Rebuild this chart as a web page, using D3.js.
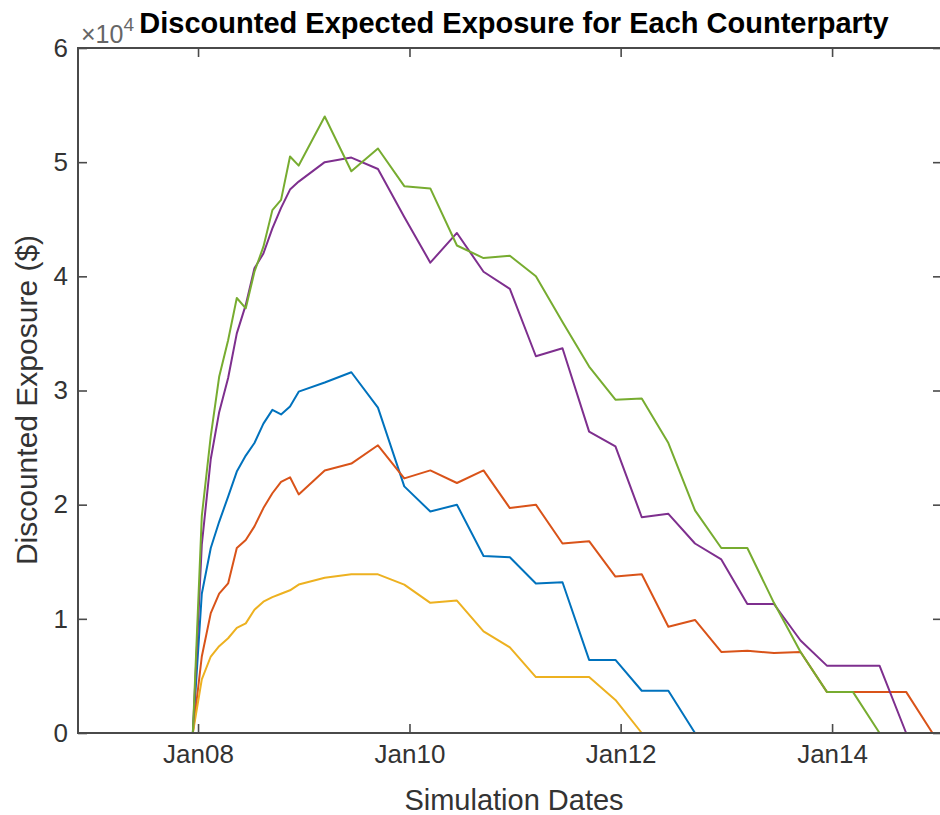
<!DOCTYPE html>
<html>
<head>
<meta charset="utf-8">
<script src="https://cdn.jsdelivr.net/npm/d3@7"></script>
<style>
  body { margin: 0; background: #fff; }
  svg { display: block; font-family: "Liberation Sans", Arial, Helvetica, sans-serif; }
</style>
</head>
<body>
<script>
(function(){
  var width = 940;
  var height = 815;

  // simulation dates: monthly for the first year, quarterly afterwards
  var simDates = [
    "2007-12-14","2008-01-14","2008-02-14","2008-03-14","2008-04-14","2008-05-14",
    "2008-06-14","2008-07-14","2008-08-14","2008-09-14","2008-10-14","2008-11-14",
    "2008-12-14","2009-03-14","2009-06-14","2009-09-14","2009-12-14","2010-03-14",
    "2010-06-14","2010-09-14","2010-12-14","2011-03-14","2011-06-14","2011-09-14",
    "2011-12-14","2012-03-14","2012-06-14","2012-09-14","2012-12-14","2013-03-14",
    "2013-06-14","2013-09-14","2013-12-14","2014-03-14","2014-06-14","2014-09-14",
    "2014-12-14"
  ];

  // discounted expected exposure ($) per counterparty
  var cp1 = [0,12200,16200,18500,20700,22900,24300,25400,27100,28300,27900,28600,29900,
    30700,31600,28500,21600,19400,20000,15500,15400,13100,13200,6400,6400,3700,3700,
    0,0,0,0,0,0,0,0,0,0];
  var cp2 = [0,6700,10500,12200,13100,16200,16900,18100,19700,21000,22000,22400,20900,
    23000,23600,25200,22300,23000,21900,23000,19700,20000,16600,16800,13700,13900,9300,
    9900,7100,7200,7000,7100,3600,3600,3600,3600,0];
  var cp3 = [0,4700,6700,7600,8300,9200,9600,10800,11500,11900,12200,12500,13000,
    13600,13900,13900,13000,11400,11600,8900,7500,4900,4900,4900,2900,
    0,0,0,0,0,0,0,0,0,0,0,0];
  var cp4 = [0,16500,24000,28100,31100,35000,37500,40700,42000,44200,46000,47600,48300,
    50000,50400,49400,45200,41200,43800,40400,38900,33000,33700,26400,25100,18900,19200,
    16600,15200,11300,11300,8100,5900,5900,5900,0,0];
  var cp5 = [0,19000,26000,31200,34400,38100,37200,40400,42600,45800,46700,50500,49700,
    54000,49200,51200,47900,47700,42700,41600,41800,40000,36000,32100,29200,29300,25400,
    19500,16200,16200,11400,7100,3600,3600,0,0,0];

  var series = [cp1, cp2, cp3, cp4, cp5];
  var colors = ["#0072BD", "#D95319", "#EDB120", "#7E2F8E", "#77AC30"];

  var xLimits = ["2006-11-12", "2015-01-16"];
  var xTicks = ["2008-01-01", "2010-01-01", "2012-01-01", "2014-01-01"];
  var yTicks = [0, 10000, 20000, 30000, 40000, 50000, 60000];

  var left = 78, right = 942, top = 48, bottom = 733;
  var parse = d3.utcParse("%Y-%m-%d");

  var x = d3.scaleUtc()
    .domain(xLimits.map(parse))
    .range([left, right]);
  var y = d3.scaleLinear().domain([0, 60000]).range([bottom, top]);

  var svg = d3.select("body").append("svg")
    .attr("width", width)
    .attr("height", height);

  var axisColor = "#4a4a4a";
  var tickLen = 9;

  function styleAxis(g) {
    g.select(".domain").remove();
    g.selectAll(".tick line").attr("stroke", axisColor).attr("stroke-width", 1.6);
    g.selectAll(".tick text").attr("fill", "#333").style("font-size", "26px");
  }

  // data lines
  var line = d3.line()
    .x((d, i) => x(parse(simDates[i])))
    .y(d => y(d));

  svg.append("g").selectAll("path")
    .data(series)
    .join("path")
    .attr("fill", "none")
    .attr("stroke", (d, i) => colors[i])
    .attr("stroke-width", 2)
    .attr("stroke-linejoin", "round")
    .attr("d", line);

  // axes (ticks point inward, MATLAB style)
  svg.append("g")
    .attr("transform", "translate(0," + bottom + ")")
    .call(d3.axisBottom(x).tickValues(xTicks.map(parse))
      .tickFormat(d3.utcFormat("%b%y"))
      .tickSizeInner(-tickLen).tickSizeOuter(0).tickPadding(12))
    .call(styleAxis);

  svg.append("g")
    .attr("transform", "translate(0," + top + ")")
    .call(d3.axisTop(x).tickValues(xTicks.map(parse)).tickFormat("")
      .tickSizeInner(-tickLen).tickSizeOuter(0))
    .call(styleAxis);

  svg.append("g")
    .attr("transform", "translate(" + left + ",0)")
    .call(d3.axisLeft(y).tickValues(yTicks).tickFormat(d => d / 10000)
      .tickSizeInner(-tickLen).tickSizeOuter(0).tickPadding(10))
    .call(styleAxis);

  svg.append("g")
    .attr("transform", "translate(" + right + ",0)")
    .call(d3.axisRight(y).tickValues(yTicks).tickFormat("")
      .tickSizeInner(-tickLen).tickSizeOuter(0))
    .call(styleAxis);

  // box
  svg.append("rect")
    .attr("x", left)
    .attr("y", top)
    .attr("width", right - left)
    .attr("height", bottom - top)
    .attr("fill", "none")
    .attr("stroke", axisColor)
    .attr("stroke-width", 2);

  // exponent label
  var expo = svg.append("text")
    .attr("x", left + 3)
    .attr("y", top - 5)
    .attr("fill", "#666")
    .style("font-size", "25px");
  expo.append("tspan").text("\u00d710");
  expo.append("tspan").attr("dy", -12).style("font-size", "19px").text("4");

  // title
  svg.append("text")
    .attr("x", (left + right) / 2 + 4)
    .attr("y", 33)
    .attr("text-anchor", "middle")
    .attr("fill", "#000")
    .style("font-size", "29px")
    .style("font-weight", "bold")
    .text("Discounted Expected Exposure for Each Counterparty");

  // axis labels
  svg.append("text")
    .attr("x", 514)
    .attr("y", 810)
    .attr("text-anchor", "middle")
    .attr("fill", "#333")
    .style("font-size", "29px")
    .text("Simulation Dates");

  svg.append("text")
    .attr("transform", "translate(37,400) rotate(-90)")
    .attr("text-anchor", "middle")
    .attr("fill", "#333")
    .style("font-size", "30px")
    .text("Discounted Exposure ($)");
})();
</script>
</body>
</html>
